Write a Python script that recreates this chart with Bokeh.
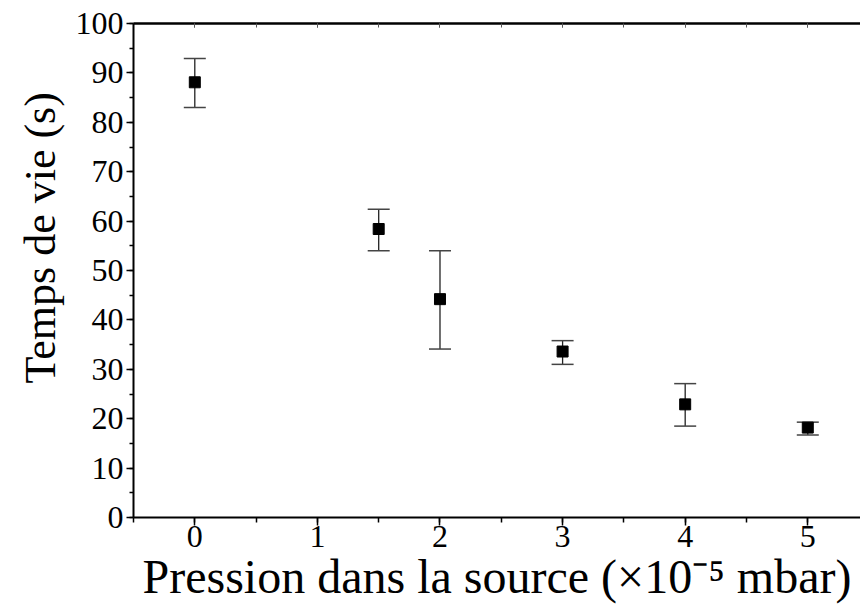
from bokeh.plotting import figure
from bokeh.models import (Range1d, LinearAxis, SingleIntervalTicker, Whisker,
                          ColumnDataSource, TeeHead, CustomJSTickFormatter, Title)
from bokeh.embed import file_html
from bokeh.resources import INLINE

# Data
pressure = [0, 1.5, 2, 3, 4, 5]            # x 10^-5 mbar
lifetime = [88.1, 58.4, 44.2, 33.6, 22.9, 18.2]   # s
err_upper = [92.9, 62.4, 54.0, 35.8, 27.1, 19.3]
err_lower = [83.0, 54.0, 34.1, 31.0, 18.5, 16.7]

x_label = "Pression dans la source (×10⁻⁵ mbar)"
y_label = "Temps de vie (s)"

FONT = "Liberation Serif"

src = ColumnDataSource(dict(x=pressure, y=lifetime, upper=err_upper, lower=err_lower))

p = figure(width=860, height=616,
           x_range=Range1d(-0.5, 5.43), y_range=Range1d(0, 100),
           output_backend="svg", toolbar_location=None,
           min_border_left=133, min_border_right=0,
           min_border_top=23, min_border_bottom=99,
           x_axis_location=None, y_axis_location=None)
p.outline_line_color = None
p.xgrid.visible = False
p.ygrid.visible = False
p.background_fill_color = "white"
p.border_fill_color = "white"

def style_axis(ax, out_major, out_minor):
    ax.axis_line_width = 2
    ax.axis_line_color = "black"
    ax.major_tick_line_width = 1.5
    ax.minor_tick_line_width = 1.5
    ax.major_tick_line_color = "black"
    ax.minor_tick_line_color = "black"
    ax.major_tick_in = 0
    ax.major_tick_out = out_major
    ax.minor_tick_in = 0
    ax.minor_tick_out = out_minor
    ax.major_label_text_font = FONT
    ax.major_label_text_font_size = "32px"
    ax.major_label_text_color = "black"
    ax.axis_label_text_font = FONT
    ax.axis_label_text_font_style = "normal"
    ax.axis_label_text_color = "black"

xaxis = LinearAxis(ticker=SingleIntervalTicker(interval=1, num_minor_ticks=2),
                   axis_label=x_label)
style_axis(xaxis, 8, 5)
xaxis.axis_label_text_font_size = "48px"
xaxis.major_label_standoff = 0
xaxis.axis_label_standoff = 0
p.add_layout(xaxis, "below")

yaxis = LinearAxis(ticker=SingleIntervalTicker(interval=10, num_minor_ticks=2))
style_axis(yaxis, 7, 4)
yaxis.major_label_standoff = 3
p.add_layout(yaxis, "left")

# y-axis title: a side title so it can sit a little above the frame centre
ytitle = Title(text=y_label, align="left", offset=134, standoff=16,
               text_font=FONT, text_font_size="44px",
               text_font_style="normal", text_color="black")
p.add_layout(ytitle, "left")

top = LinearAxis(ticker=SingleIntervalTicker(interval=1, num_minor_ticks=2),
                 formatter=CustomJSTickFormatter(code="return ''"))
top.axis_line_width = 2.5
top.axis_line_color = "black"
top.major_tick_in = 4
top.major_tick_out = 0
top.minor_tick_in = 4
top.minor_tick_out = 0
top.major_tick_line_color = "#555555"
top.minor_tick_line_color = "#555555"
top.major_label_text_font_size = "1px"
top.major_label_standoff = 0
p.add_layout(top, "above")

wh = Whisker(source=src, base="x", upper="upper", lower="lower",
             line_color="#222222", line_width=1.3,
             upper_head=TeeHead(size=22, line_color="#444444", line_width=1.5),
             lower_head=TeeHead(size=22, line_color="#444444", line_width=1.5))
p.add_layout(wh)

p.scatter("x", "y", source=src, marker="square", size=11,
          fill_color="black", line_color="black")

open("out.html", "w").write(file_html(p, INLINE))
